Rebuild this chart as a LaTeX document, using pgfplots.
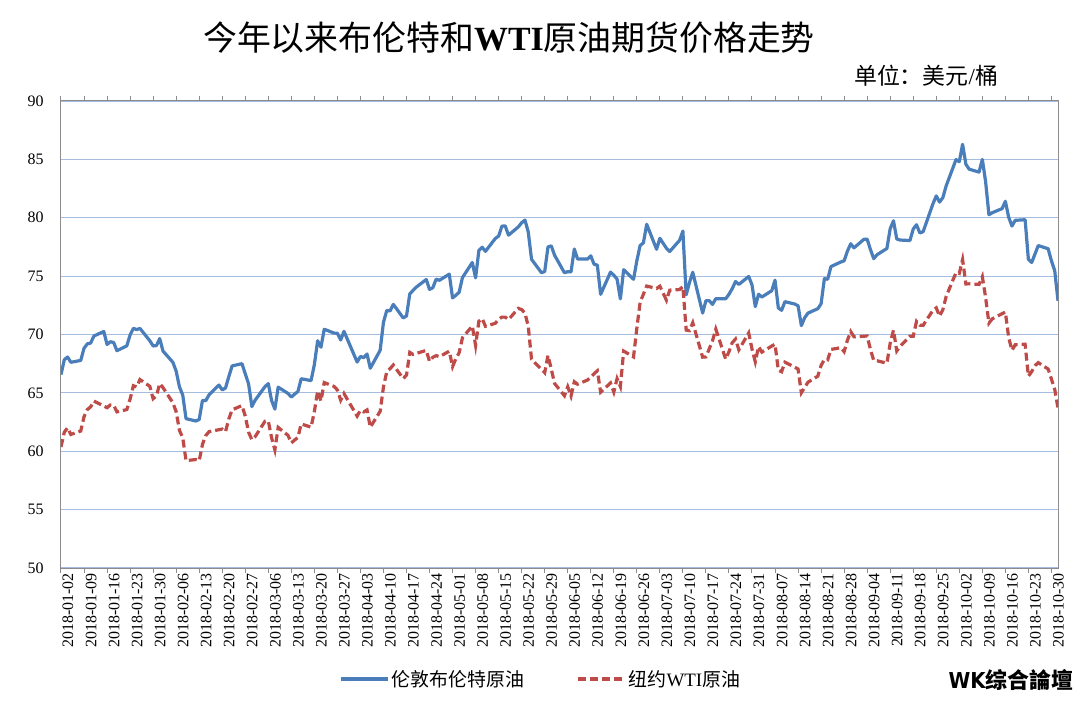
\documentclass[border=0pt]{standalone}
\usepackage{fontspec}
\setmainfont{Liberation Serif}
\newfontfamily\cjk{Noto Sans CJK SC}
\newfontfamily\wkfont{DejaVu Sans Condensed}
\usepackage{pgfplots}
\pgfplotsset{compat=1.18}
\definecolor{brent}{RGB}{74,126,187}
\definecolor{wti}{RGB}{190,75,72}
\definecolor{gridc}{RGB}{165,190,224}
\definecolor{framec}{RGB}{140,140,140}
\begin{document}
\begin{tikzpicture}
\useasboundingbox (0,0) rectangle (1080bp,705bp);
\begin{axis}[
  at={(61bp,137bp)}, anchor=south west, scale only axis,
  width=997bp, height=467bp,
  xmin=0, xmax=303, ymin=50, ymax=90,
  ytick={50,55,...,90},
  xtick={0,7,...,301},
  xticklabels={2018-01-02,2018-01-09,2018-01-16,2018-01-23,2018-01-30,2018-02-06,2018-02-13,2018-02-20,2018-02-27,2018-03-06,2018-03-13,2018-03-20,2018-03-27,2018-04-03,2018-04-10,2018-04-17,2018-04-24,2018-05-01,2018-05-08,2018-05-15,2018-05-22,2018-05-29,2018-06-05,2018-06-12,2018-06-19,2018-06-26,2018-07-03,2018-07-10,2018-07-17,2018-07-24,2018-07-31,2018-08-07,2018-08-14,2018-08-21,2018-08-28,2018-09-04,2018-09-11,2018-09-18,2018-09-25,2018-10-02,2018-10-09,2018-10-16,2018-10-23,2018-10-30},
  axis line style={framec, line width=1bp},
  ymajorgrids, grid style={gridc, line width=1.2bp},
  tick align=outside, major tick length=5bp,
  xtick style={framec, line width=1bp},
  ytick style={draw=none},
  /pgf/number format/assume math mode=true,
  ticklabel style={font=\fontsize{16}{16}\selectfont},
  yticklabel style={anchor=east, xshift=-9bp},
  xticklabel style={rotate=90, anchor=east, inner sep=0pt, xshift=0bp, yshift=-7bp},
  legend style={at={(0.4814,-0.2377)}, anchor=center, draw=none, fill=none,
    legend columns=2, font=\fontsize{19}{19}\selectfont,
    /tikz/every even column/.append style={column sep=50bp}},
  legend cell align=left,
  legend image code/.code={\draw[#1] (0bp,0bp) -- (47bp,0bp);},
]
\addplot[brent, line width=3.2bp, line join=round] coordinates {
(0,66.57) (1,67.84) (2,68.07) (3,67.62) (6,67.78) (7,68.82) (8,69.20) (9,69.26) (10,69.87) (13,70.26) (14,69.15) (15,69.38) (16,69.31) (17,68.61) (20,69.03) (21,69.96) (22,70.53) (23,70.42) (24,70.52) (27,69.46) (28,69.02) (29,69.05)
(30,69.65) (31,68.58) (34,67.62) (35,66.86) (36,65.51) (37,64.81) (38,62.79) (41,62.59) (42,62.72) (43,64.36) (44,64.33) (45,64.84) (48,65.67) (49,65.25) (50,65.42) (51,66.39) (52,67.31) (55,67.50) (56,66.63) (57,65.78)
(58,63.83) (59,64.37) (62,65.54) (63,65.79) (64,64.34) (65,63.61) (66,65.49) (69,64.95) (70,64.64) (71,64.89) (72,65.12) (73,66.21) (76,66.05) (77,67.42) (78,69.47) (79,68.91) (80,70.45) (83,70.12) (84,70.11) (85,69.53) (86,70.27)
(90,67.64) (91,68.12) (92,68.02) (93,68.33) (94,67.11) (97,68.65) (98,71.04) (99,72.06) (100,72.02) (101,72.58) (104,71.42) (105,71.58) (106,73.48) (107,73.78) (108,74.06) (111,74.71) (112,73.86) (113,74.00) (114,74.74) (115,74.64) (118,75.17)
(119,73.13) (120,73.36) (121,73.62) (122,74.87) (125,76.17) (126,74.85) (127,77.21) (128,77.47) (129,77.12) (132,78.23) (133,78.43) (134,79.28) (135,79.30) (136,78.51) (139,79.22) (140,79.57) (141,79.80) (142,78.79) (143,76.44) (146,75.30) (147,75.39) (148,77.50) (149,77.59)
(150,76.79) (153,75.29) (154,75.38) (155,75.36) (156,77.32) (157,76.46) (160,76.46) (161,76.74) (162,76.02) (163,75.94) (164,73.44) (167,75.34) (168,75.08) (169,74.74) (170,73.05) (171,75.55) (174,74.73) (175,76.31) (176,77.62) (177,77.85) (178,79.44)
(181,77.30) (182,78.24) (184,77.39) (185,77.11) (188,78.07) (189,78.86) (190,73.40) (191,74.45) (192,75.33) (195,71.84) (196,72.90) (197,72.90) (198,72.58) (199,73.07) (202,73.06) (203,73.44) (204,73.93) (205,74.54) (206,74.29) (209,74.97) (210,74.25)
(211,72.39) (212,73.45) (213,73.21) (216,73.75) (217,74.65) (218,72.28) (219,72.07) (220,72.81) (223,72.61) (224,72.46) (225,70.76) (226,71.43) (227,71.83) (230,72.21) (231,72.63) (232,74.78) (233,74.73) (234,75.82) (237,76.21) (238,76.31) (239,77.14) (240,77.77) (241,77.42)
(244,78.15) (245,78.17) (246,77.27) (247,76.50) (248,76.83) (251,77.37) (252,79.06) (253,79.74) (254,78.18) (255,78.09) (258,78.05) (259,79.03) (260,79.40) (261,78.70) (262,78.80) (265,81.20) (266,81.87) (267,81.34) (268,81.72) (269,82.72)
(272,84.98) (273,84.80) (274,86.29) (275,84.58) (276,84.16) (279,83.91) (280,85.00) (281,83.09) (282,80.26) (283,80.43) (286,80.78) (287,81.41) (288,80.05) (289,79.29) (290,79.78) (293,79.83) (294,76.44) (295,76.17) (296,76.89) (297,77.62) (300,77.34) (301,76.31) (302,75.47) (303,72.89)
};
\addlegendentry{{\cjk 伦敦布伦特原油}}
\addplot[wti, line width=3.2bp, dash pattern=on 8bp off 4bp] coordinates {
(0,60.37) (1,61.63) (2,62.01) (3,61.44) (6,61.73) (7,62.96) (8,63.57) (9,63.80) (10,64.30) (14,63.73) (15,63.97) (16,63.95) (17,63.37) (20,63.57) (21,64.47) (22,65.61) (23,65.51) (24,66.14) (27,65.56) (28,64.50) (29,64.73)
(30,65.80) (31,65.45) (34,64.15) (35,63.39) (36,61.79) (37,61.15) (38,59.20) (41,59.29) (42,59.19) (43,60.60) (44,61.34) (45,61.68) (49,61.90) (50,61.68) (51,62.77) (52,63.55) (55,63.91) (56,63.01) (57,61.64)
(58,60.99) (59,61.25) (62,62.57) (63,62.60) (64,61.15) (65,60.12) (66,62.04) (69,61.36) (70,60.71) (71,60.96) (72,61.19) (73,62.34) (76,62.06) (77,63.40) (78,65.17) (79,64.30) (80,65.88) (83,65.55) (84,65.25) (85,64.38) (86,64.94)
(90,63.01) (91,63.51) (92,63.37) (93,63.54) (94,62.06) (97,63.42) (98,65.51) (99,66.82) (100,67.07) (101,67.39) (104,66.22) (105,66.52) (106,68.47) (107,68.29) (108,68.38) (111,68.64) (112,67.70) (113,68.05) (114,68.19) (115,68.10) (118,68.57)
(119,67.25) (120,67.93) (121,68.43) (122,69.72) (125,70.73) (126,69.06) (127,71.14) (128,71.36) (129,70.70) (132,70.96) (133,71.31) (134,71.49) (135,71.49) (136,71.28) (139,72.24) (140,72.13) (141,71.84) (142,70.71) (143,67.88) (147,66.73) (148,68.21) (149,67.04)
(150,65.81) (153,64.75) (154,65.52) (155,64.73) (156,65.95) (157,65.74) (160,66.10) (161,66.36) (162,66.64) (163,66.89) (164,65.06) (167,65.85) (168,65.07) (169,66.22) (170,65.54) (171,68.58) (174,68.08) (175,70.53) (176,72.76) (177,73.45) (178,74.15)
(181,73.94) (182,74.14) (184,72.94) (185,73.80) (188,73.85) (189,74.11) (190,70.38) (191,70.33) (192,71.01) (195,68.06) (196,68.08) (197,68.76) (198,69.46) (199,70.46) (202,67.89) (203,68.52) (204,69.30) (205,69.61) (206,68.69) (209,70.13) (210,68.76)
(211,67.66) (212,68.96) (213,68.49) (216,69.01) (217,69.17) (218,66.94) (219,66.81) (220,67.63) (223,67.20) (224,67.04) (225,65.01) (226,65.46) (227,65.91) (230,66.43) (231,67.35) (232,67.86) (233,67.83) (234,68.72) (237,68.87) (238,68.53) (239,69.51) (240,70.25) (241,69.80)
(245,69.87) (246,68.72) (247,67.77) (248,67.75) (251,67.54) (252,69.25) (253,70.37) (254,68.59) (255,68.99) (258,69.85) (259,69.85) (260,71.12) (261,70.80) (262,70.78) (265,72.08) (266,72.28) (267,71.57) (268,72.12) (269,73.25)
(272,75.30) (273,75.23) (274,76.41) (275,74.33) (276,74.34) (279,74.29) (280,74.96) (281,73.17) (282,70.97) (283,71.34) (286,71.78) (287,71.92) (288,69.75) (289,68.65) (290,69.12) (293,69.17) (294,66.43) (295,66.82) (296,67.33) (297,67.59) (300,67.04) (301,66.18) (302,65.31) (303,63.69)
};
\addlegendentry{{\cjk 纽约}WTI{\cjk 原油}}
\end{axis}
\node[font=\fontsize{34}{34}\selectfont] at (509bp,667bp) {{\cjk 今年以来布伦特和}\textbf{WTI}{\cjk 原油期货价格走势}};
\node[font=\fontsize{23}{23}\selectfont] at (926bp,629bp) {{\cjk 单位：美元}/{\cjk 桶}};
\node[font=\fontsize{22}{22}\selectfont] at (1011bp,25bp) {{\wkfont\bfseries WK}{\cjk\bfseries 综合論壇}};
\end{tikzpicture}
\end{document}
